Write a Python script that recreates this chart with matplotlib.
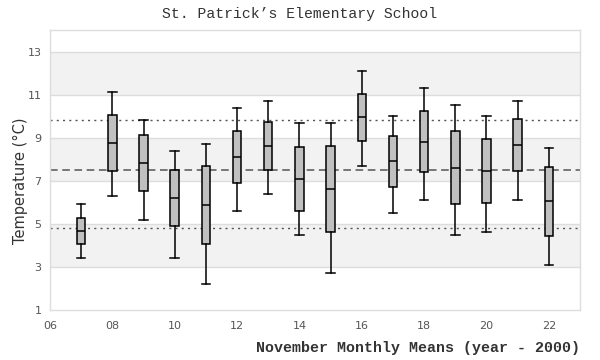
import matplotlib
matplotlib.use("Agg")
import matplotlib.pyplot as plt
import numpy as np

# ── Data ──────────────────────────────────────────────────────────────────
years     = [7, 8, 9, 10, 11, 12, 13, 14, 15, 16, 17, 18, 19, 20, 21, 22]
whis_lo   = [3.40, 6.30, 5.17, 3.40, 2.20, 5.59, 6.38, 4.49, 2.71, 7.70, 5.50, 6.10, 4.49, 4.61, 6.10, 3.08]
q1        = [4.06, 7.45, 6.52, 4.89, 4.06, 6.89, 7.51, 5.60, 4.61, 8.85, 6.72, 7.40, 5.92, 5.96, 7.45, 4.43]
medians   = [4.66, 8.75, 7.82, 6.20, 5.88, 8.10, 8.63, 7.08, 6.61, 9.98, 7.92, 8.80, 7.59, 7.45, 8.66, 6.06]
q3        = [5.27, 10.05, 9.12, 7.50, 7.70, 9.31, 9.73, 8.58, 8.63, 11.03, 9.08, 10.24, 9.31, 8.93, 9.87, 7.64]
whis_hi   = [5.92, 11.12, 9.81, 8.38, 8.71, 10.38, 10.71, 9.68, 9.68, 12.10, 10.01, 11.31, 10.52, 10.01, 10.71, 8.52]

mean_line = 7.52
sd_hi     = 9.84
sd_lo     = 4.80

x_ticks   = [6, 8, 10, 12, 14, 16, 18, 20, 22]
y_ticks   = [1, 3, 5, 7, 9, 11, 13]
bands     = [(3, 5), (7, 9), (11, 13)]

# ── Style ─────────────────────────────────────────────────────────────────
GRID  = "#dddddd"
BAND  = "#f2f2f2"
TICK  = "#555555"
TEXT  = "#333333"
BOX   = "#c0c0c0"

fig = plt.figure(figsize=(6, 3.6), dpi=100)
ax = fig.add_axes([50 / 600, 1 - 310 / 360, 530 / 600, 280 / 360])

for lo, hi in bands:
    ax.axhspan(lo, hi, color=BAND, zorder=0, lw=0)
for yv in y_ticks[1:]:
    ax.axhline(yv, color=GRID, lw=1, zorder=1)

ax.axhline(sd_hi, color=TICK, lw=1, ls=(0, (1.5, 3)), zorder=2)
ax.axhline(sd_lo, color=TICK, lw=1, ls=(0, (1.5, 3)), zorder=2)
ax.axhline(mean_line, color=TICK, lw=1.1, ls=(0, (5, 3)), zorder=2)

stats = [dict(whislo=a, q1=b, med=c, q3=d, whishi=e, fliers=[])
         for a, b, c, d, e in zip(whis_lo, q1, medians, q3, whis_hi)]
ax.bxp(stats, positions=years, widths=0.27, patch_artist=True,
       showfliers=False, manage_ticks=False, zorder=3,
       boxprops=dict(facecolor=BOX, edgecolor="black", linewidth=1.1),
       medianprops=dict(color="black", linewidth=1.1),
       whiskerprops=dict(color="black", linewidth=1.1),
       capprops=dict(color="black", linewidth=1.1),
       capwidths=0.27)

ax.set_xlim(6, 23)
ax.set_ylim(1, 14)
ax.set_xticks(x_ticks)
ax.set_xticklabels([f"{v:02d}" for v in x_ticks])
ax.set_yticks(y_ticks)
ax.tick_params(length=0, colors=TICK, labelsize=8, pad=6)
ax.tick_params(axis="x", pad=8)
for spine in ax.spines.values():
    spine.set_edgecolor(GRID)
    spine.set_linewidth(1)

fig.text(0.5, 1 - 14 / 360, "St. Patrick\u2019s Elementary School",
         ha="center", va="center", family="Liberation Mono",
         fontsize=10.6, color=TEXT)
fig.text(580 / 600, 1 - 348 / 360, "November Monthly Means (year - 2000)",
         ha="right", va="center", family="Liberation Mono",
         fontsize=10.8, fontweight="bold", color=TEXT)
fig.text(20 / 600, 1 - 181 / 360, "Temperature (\u00b0C)", rotation=90,
         ha="center", va="center", family="DejaVu Sans",
         fontsize=10.5, color=TEXT)

fig.savefig("out.png", dpi=100, facecolor="white")
